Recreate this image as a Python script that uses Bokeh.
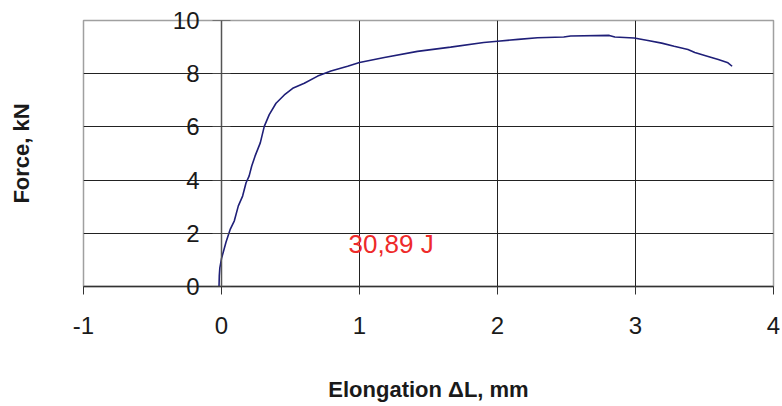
from bokeh.plotting import figure
from bokeh.models import LinearAxis, FixedTicker, Label, Range1d
from bokeh.embed import file_html
from bokeh.resources import INLINE

# ---- data ----
elongation_mm = [-0.018, -0.016, -0.012, 0.0, 0.033, 0.064, 0.093, 0.122, 0.153, 0.178,
                 0.2, 0.219, 0.243, 0.281, 0.31, 0.346, 0.395, 0.455, 0.516, 0.6,
                 0.697, 0.793, 0.914, 1.0, 1.18, 1.42, 1.66, 1.9, 2.0, 2.15,
                 2.29, 2.48, 2.53, 2.81, 2.85, 2.99, 3.09, 3.19, 3.28, 3.38,
                 3.43, 3.52, 3.6, 3.67, 3.7]
force_kN = [0.0, 0.4, 0.7, 1.05, 1.67, 2.16, 2.47, 3.03, 3.4, 3.9,
            4.15, 4.53, 4.9, 5.4, 6.02, 6.46, 6.89, 7.2, 7.45, 7.64,
            7.91, 8.1, 8.28, 8.42, 8.61, 8.84, 9.0, 9.17, 9.22, 9.29,
            9.35, 9.38, 9.42, 9.44, 9.38, 9.34, 9.25, 9.15, 9.03, 8.91,
            8.8, 8.66, 8.53, 8.41, 8.28]

x_ticks = [-1, 0, 1, 2, 3, 4]
x_tick_labels = {-1: "-1"}
y_ticks = [0, 2, 4, 6, 8, 10]
x_grid = [1, 2, 3]
y_grid = [2, 4, 6, 8]

energy_label = "30,89 J"
energy_x = 0.92
energy_y = 1.6

FONT = "Liberation Sans"
TXT = "#1a1a1a"

p = figure(width=780, height=404,
           x_range=Range1d(-1, 4), y_range=Range1d(0, 10),
           output_backend="svg", toolbar_location=None,
           min_border_left=83, min_border_right=7,
           min_border_top=20, min_border_bottom=116,
           background_fill_color="white", border_fill_color="white")

p.outline_line_color = "#a0a0a0"
p.outline_line_width = 1.5

# grid
p.xgrid.ticker = FixedTicker(ticks=x_grid)
p.ygrid.ticker = FixedTicker(ticks=y_grid)
p.xgrid.grid_line_color = "#222222"
p.ygrid.grid_line_color = "#222222"
p.xgrid.grid_line_width = 1
p.ygrid.grid_line_width = 1

# x axis
xa = p.xaxis[0]
xa.ticker = FixedTicker(ticks=x_ticks)
xa.major_label_overrides = x_tick_labels
xa.major_tick_in = 0
xa.major_tick_out = 8
xa.minor_tick_line_color = None
xa.axis_line_color = "#333333"
xa.axis_line_width = 1.5
xa.major_tick_line_color = "#333333"
xa.major_label_text_font = FONT
xa.major_label_text_font_size = "24px"
xa.major_label_text_color = TXT
xa.major_label_standoff = 22
xa.axis_label = "Elongation ΔL, mm"
xa.axis_label_text_font = FONT
xa.axis_label_text_font_style = "bold"
xa.axis_label_text_font_size = "22px"
xa.axis_label_text_color = TXT
xa.axis_label_standoff = 40

# left axis: carries tick labels (shifted in next to x = 0) and the title
ya = p.yaxis[0]
ya.ticker = FixedTicker(ticks=y_ticks)
ya.major_tick_in = 0
ya.major_tick_out = 0
ya.major_tick_line_color = None
ya.minor_tick_line_color = None
ya.axis_line_color = None
ya.major_label_text_font = FONT
ya.major_label_text_font_size = "24px"
ya.major_label_text_color = TXT
ya.major_label_standoff = -116
ya.axis_label = "Force, kN"
ya.axis_label_text_font = FONT
ya.axis_label_text_font_style = "bold"
ya.axis_label_text_font_size = "22px"
ya.axis_label_text_color = TXT
ya.axis_label_standoff = 136

# y axis line and ticks crossing at x = 0
y0 = LinearAxis(fixed_location=0, ticker=FixedTicker(ticks=y_ticks))
y0.major_tick_in = 9
y0.major_tick_out = 9
y0.minor_tick_line_color = None
y0.axis_line_color = "#555555"
y0.axis_line_width = 1.5
y0.major_tick_line_color = "#444444"
y0.major_label_text_color = None
p.add_layout(y0, "left")

# curve
p.line(elongation_mm, force_kN, line_color="#1f1f78", line_width=1.6)

p.add_layout(Label(x=energy_x, y=energy_y, text=energy_label,
                   text_font=FONT, text_font_size="26px",
                   text_color="#ee2a2a", text_baseline="middle", text_align="left"))

open("out.html", "w").write(file_html(p, INLINE))
